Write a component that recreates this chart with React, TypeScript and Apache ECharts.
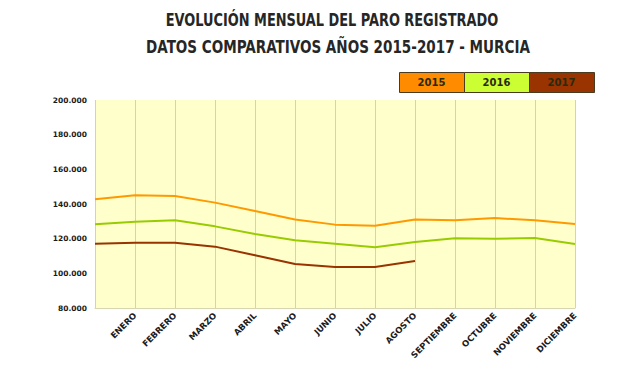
import React, { useEffect, useRef } from "react";
import * as echarts from "echarts";

const categories = ["", "ENERO", "FEBRERO", "MARZO", "ABRIL", "MAYO", "JUNIO", "JULIO", "AGOSTO", "SEPTIEMBRE", "OCTUBRE", "NOVIEMBRE", "DICIEMBRE"];
const years = ["2015", "2016", "2017"];
const values2015 = [142700, 145000, 144600, 140800, 136000, 131000, 128100, 127500, 131000, 130600, 131900, 130600, 128500];
const values2016 = [128300, 129800, 130600, 127100, 122700, 119100, 117100, 115000, 118100, 120200, 120000, 120400, 116900];
const values2017 = [117100, 117700, 117700, 115400, 110400, 105400, 103600, 103700, 107100];
const yTicks = [80000, 100000, 120000, 140000, 160000, 180000, 200000];
const titleLines = ["EVOLUCIÓN MENSUAL DEL PARO REGISTRADO", "DATOS COMPARATIVOS AÑOS 2015-2017 - MURCIA"];

const colors = ["#FF9900", "#99CC00", "#993300"];
const legendFill = ["#FF8C00", "#CCFF33", "#993300"];

export default function App() {
  const ref = useRef<HTMLDivElement>(null);
  useEffect(() => {
    if (!ref.current) return;
    const chart = echarts.init(ref.current, null, { renderer: "svg" });
    const seriesData = [values2015, values2016, values2017];
    const graphics: any[] = [];
    const titlePos = [
      { x: 332, y: 20, sx: 0.845 },
      { x: 338, y: 47, sx: 0.885 },
    ];
    titleLines.forEach((t, i) => {
      graphics.push({
        type: "text",
        x: titlePos[i].x,
        y: titlePos[i].y,
        scaleX: titlePos[i].sx,
        style: {
          text: t,
          fill: "#262626",
          font: "bold 17px 'DejaVu Sans Condensed', 'DejaVu Sans', sans-serif",
          textAlign: "center",
          textVerticalAlign: "middle",
        },
      });
    });
    years.forEach((y, i) => {
      graphics.push({
        type: "rect",
        left: 399 + i * 65,
        top: 72,
        shape: { width: 65, height: 20 },
        style: { fill: legendFill[i], stroke: "#4a3a20", lineWidth: 1 },
      });
      graphics.push({
        type: "text",
        x: 399 + i * 65 + 32.5,
        y: 82.5,
        style: {
          text: y,
          fill: "#2a2a10",
          font: "bold 10px 'DejaVu Sans'",
          textAlign: "center",
          textVerticalAlign: "middle",
        },
      });
    });
    chart.setOption({
      animation: false,
      backgroundColor: "#ffffff",
      graphic: graphics,
      grid: {
        left: 95,
        right: 49,
        top: 100,
        bottom: 77,
        show: true,
        backgroundColor: "#FFFFCC",
        borderWidth: 0,
      },
      xAxis: {
        type: "category",
        data: categories,
        boundaryGap: false,
        axisLine: { show: true, lineStyle: { color: "#d8d6b0", width: 1 } },
        axisTick: { show: false },
        splitLine: { show: true, lineStyle: { color: "#d6d3b4", width: 1 } },
        axisLabel: {
          rotate: 45,
          interval: 0,
          margin: 6,
          fontFamily: "'DejaVu Sans', sans-serif",
          fontWeight: "bold",
          fontSize: 8.5,
          color: "#1a1a1a",
        },
      },
      yAxis: {
        type: "value",
        min: yTicks[0],
        max: yTicks[yTicks.length - 1],
        interval: yTicks[1] - yTicks[0],
        axisLine: { show: false },
        axisTick: { show: false },
        splitLine: { show: false },
        axisLabel: {
          margin: 8,
          fontFamily: "'DejaVu Sans', sans-serif",
          fontWeight: "bold",
          fontSize: 7.5,
          color: "#1a1a1a",
          formatter: (v: number) => {
            const s = String(Math.round(v));
            return s.replace(/\B(?=(\d{3})+(?!\d))/g, ".");
          },
        },
      },
      series: years.map((y, i) => ({
        name: y,
        type: "line",
        data: seriesData[i],
        symbol: "none",
        smooth: false,
        lineStyle: { color: colors[i], width: 2 },
        itemStyle: { color: colors[i] },
      })),
    });
    return () => chart.dispose();
  }, []);
  return <div ref={ref} style={{ width: 624, height: 385, position: "fixed", left: 0, top: 0 }} />;
}
